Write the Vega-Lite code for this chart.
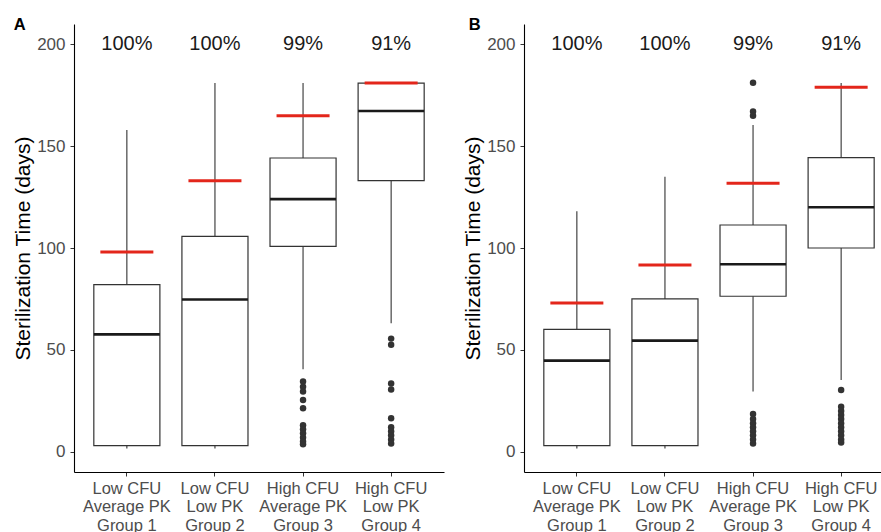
{
  "$schema": "https://vega.github.io/schema/vega-lite/v6.json",
  "padding": {"left": 12, "top": 16, "right": 0, "bottom": 0},
  "background": "white",
  "spacing": 18,
  "datasets": {
    "boxes": [
      {"panel": "A", "group": "Low CFU|Average PK|Group 1", "lower": 1.5, "q1": 3, "median": 57.6, "q3": 82, "upper": 158, "red": 98, "pct": "100%", "ypct": 200},
      {"panel": "A", "group": "Low CFU|Low PK|Group 2", "lower": 1.5, "q1": 3, "median": 74.7, "q3": 105.7, "upper": 181, "red": 133, "pct": "100%", "ypct": 200},
      {"panel": "A", "group": "High CFU|Average PK|Group 3", "lower": 40.4, "q1": 100.8, "median": 124, "q3": 144.2, "upper": 181, "red": 165, "pct": "99%", "ypct": 200},
      {"panel": "A", "group": "High CFU|Low PK|Group 4", "lower": 63, "q1": 133.1, "median": 167.3, "q3": 181, "upper": 181, "red": 181, "pct": "91%", "ypct": 200},
      {"panel": "B", "group": "Low CFU|Average PK|Group 1", "lower": 1.5, "q1": 3, "median": 44.7, "q3": 60, "upper": 118, "red": 73, "pct": "100%", "ypct": 200},
      {"panel": "B", "group": "Low CFU|Low PK|Group 2", "lower": 1.5, "q1": 3, "median": 54.5, "q3": 75, "upper": 135, "red": 91.7, "pct": "100%", "ypct": 200},
      {"panel": "B", "group": "High CFU|Average PK|Group 3", "lower": 29.5, "q1": 76.3, "median": 92, "q3": 111.3, "upper": 160.4, "red": 131.8, "pct": "99%", "ypct": 200},
      {"panel": "B", "group": "High CFU|Low PK|Group 4", "lower": 35.2, "q1": 100, "median": 120, "q3": 144.4, "upper": 181, "red": 179, "pct": "91%", "ypct": 200}
    ],
    "outliers": [
      {"panel": "A", "group": "High CFU|Average PK|Group 3", "value": 34.4},
      {"panel": "A", "group": "High CFU|Average PK|Group 3", "value": 31.9},
      {"panel": "A", "group": "High CFU|Average PK|Group 3", "value": 29.5},
      {"panel": "A", "group": "High CFU|Average PK|Group 3", "value": 25.4},
      {"panel": "A", "group": "High CFU|Average PK|Group 3", "value": 21.3},
      {"panel": "A", "group": "High CFU|Average PK|Group 3", "value": 13},
      {"panel": "A", "group": "High CFU|Average PK|Group 3", "value": 11},
      {"panel": "A", "group": "High CFU|Average PK|Group 3", "value": 9},
      {"panel": "A", "group": "High CFU|Average PK|Group 3", "value": 7},
      {"panel": "A", "group": "High CFU|Average PK|Group 3", "value": 5},
      {"panel": "A", "group": "High CFU|Average PK|Group 3", "value": 3.6},
      {"panel": "A", "group": "High CFU|Low PK|Group 4", "value": 55.5},
      {"panel": "A", "group": "High CFU|Low PK|Group 4", "value": 52.5},
      {"panel": "A", "group": "High CFU|Low PK|Group 4", "value": 33.5},
      {"panel": "A", "group": "High CFU|Low PK|Group 4", "value": 30.5},
      {"panel": "A", "group": "High CFU|Low PK|Group 4", "value": 16.4},
      {"panel": "A", "group": "High CFU|Low PK|Group 4", "value": 12},
      {"panel": "A", "group": "High CFU|Low PK|Group 4", "value": 10},
      {"panel": "A", "group": "High CFU|Low PK|Group 4", "value": 8},
      {"panel": "A", "group": "High CFU|Low PK|Group 4", "value": 6},
      {"panel": "A", "group": "High CFU|Low PK|Group 4", "value": 4},
      {"panel": "B", "group": "High CFU|Average PK|Group 3", "value": 181.2},
      {"panel": "B", "group": "High CFU|Average PK|Group 3", "value": 167},
      {"panel": "B", "group": "High CFU|Average PK|Group 3", "value": 165},
      {"panel": "B", "group": "High CFU|Average PK|Group 3", "value": 18.5},
      {"panel": "B", "group": "High CFU|Average PK|Group 3", "value": 16},
      {"panel": "B", "group": "High CFU|Average PK|Group 3", "value": 14},
      {"panel": "B", "group": "High CFU|Average PK|Group 3", "value": 12},
      {"panel": "B", "group": "High CFU|Average PK|Group 3", "value": 10},
      {"panel": "B", "group": "High CFU|Average PK|Group 3", "value": 8},
      {"panel": "B", "group": "High CFU|Average PK|Group 3", "value": 6},
      {"panel": "B", "group": "High CFU|Average PK|Group 3", "value": 4},
      {"panel": "B", "group": "High CFU|Low PK|Group 4", "value": 30.3},
      {"panel": "B", "group": "High CFU|Low PK|Group 4", "value": 22},
      {"panel": "B", "group": "High CFU|Low PK|Group 4", "value": 20},
      {"panel": "B", "group": "High CFU|Low PK|Group 4", "value": 18},
      {"panel": "B", "group": "High CFU|Low PK|Group 4", "value": 16},
      {"panel": "B", "group": "High CFU|Low PK|Group 4", "value": 14},
      {"panel": "B", "group": "High CFU|Low PK|Group 4", "value": 12},
      {"panel": "B", "group": "High CFU|Low PK|Group 4", "value": 10},
      {"panel": "B", "group": "High CFU|Low PK|Group 4", "value": 8},
      {"panel": "B", "group": "High CFU|Low PK|Group 4", "value": 6},
      {"panel": "B", "group": "High CFU|Low PK|Group 4", "value": 4.5}
    ]
  },
  "hconcat": [
    {
      "width": 370,
      "height": 448,
      "title": {"text": "A", "fontSize": 16.5, "fontWeight": "bold", "anchor": "start", "frame": "bounds", "offset": -9, "dx": 1},
      "encoding": {
        "x": {"field": "group", "type": "nominal", "sort": ["Low CFU|Average PK|Group 1", "Low CFU|Low PK|Group 2", "High CFU|Average PK|Group 3", "High CFU|Low PK|Group 4"], "scale": {"type": "band", "paddingInner": 0, "paddingOuter": 0.1}, "axis": {"title": null, "labelExpr": "split(datum.label, '|')"}}
      },
      "layer": [
        {"data": {"name": "boxes"}, "transform": [{"filter": "datum.panel == 'A'"}], "mark": {"type": "rule", "color": "#333333", "strokeWidth": 1.1}, "encoding": {"y": {"field": "lower", "type": "quantitative", "scale": {"domain": [-10, 210], "nice": false, "zero": false}, "axis": {"values": [0, 50, 100, 150, 200], "title": "Sterilization Time (days)"}}, "y2": {"field": "upper"}}},
        {"data": {"name": "boxes"}, "transform": [{"filter": "datum.panel == 'A'"}], "mark": {"type": "bar", "fill": "white", "stroke": "#333333", "strokeWidth": 1.2, "width": {"band": 0.75}}, "encoding": {"y": {"field": "q1", "type": "quantitative"}, "y2": {"field": "q3"}}},
        {"data": {"name": "boxes"}, "transform": [{"filter": "datum.panel == 'A'"}], "mark": {"type": "tick", "color": "#1a1a1a", "size": 66, "thickness": 2.6, "opacity": 1}, "encoding": {"y": {"field": "median", "type": "quantitative"}}},
        {"data": {"name": "boxes"}, "transform": [{"filter": "datum.panel == 'A'"}], "mark": {"type": "tick", "color": "#E3261B", "size": 53, "thickness": 3, "opacity": 1}, "encoding": {"y": {"field": "red", "type": "quantitative"}}},
        {"data": {"name": "outliers"}, "transform": [{"filter": "datum.panel == 'A'"}], "mark": {"type": "circle", "color": "#333333", "size": 42, "opacity": 1}, "encoding": {"y": {"field": "value", "type": "quantitative"}}},
        {"data": {"name": "boxes"}, "transform": [{"filter": "datum.panel == 'A'"}], "mark": {"type": "text", "fontSize": 20, "color": "#1a1a1a", "baseline": "middle"}, "encoding": {"y": {"field": "ypct", "type": "quantitative"}, "text": {"field": "pct"}}}
      ]
    },
    {
      "width": 370,
      "height": 448,
      "title": {"text": "B", "fontSize": 16.5, "fontWeight": "bold", "anchor": "start", "frame": "bounds", "offset": -9, "dx": 6},
      "encoding": {
        "x": {"field": "group", "type": "nominal", "sort": ["Low CFU|Average PK|Group 1", "Low CFU|Low PK|Group 2", "High CFU|Average PK|Group 3", "High CFU|Low PK|Group 4"], "scale": {"type": "band", "paddingInner": 0, "paddingOuter": 0.1}, "axis": {"title": null, "labelExpr": "split(datum.label, '|')"}}
      },
      "layer": [
        {"data": {"name": "boxes"}, "transform": [{"filter": "datum.panel == 'B'"}], "mark": {"type": "rule", "color": "#333333", "strokeWidth": 1.1}, "encoding": {"y": {"field": "lower", "type": "quantitative", "scale": {"domain": [-10, 210], "nice": false, "zero": false}, "axis": {"values": [0, 50, 100, 150, 200], "title": "Sterilization Time (days)"}}, "y2": {"field": "upper"}}},
        {"data": {"name": "boxes"}, "transform": [{"filter": "datum.panel == 'B'"}], "mark": {"type": "bar", "fill": "white", "stroke": "#333333", "strokeWidth": 1.2, "width": {"band": 0.75}}, "encoding": {"y": {"field": "q1", "type": "quantitative"}, "y2": {"field": "q3"}}},
        {"data": {"name": "boxes"}, "transform": [{"filter": "datum.panel == 'B'"}], "mark": {"type": "tick", "color": "#1a1a1a", "size": 66, "thickness": 2.6, "opacity": 1}, "encoding": {"y": {"field": "median", "type": "quantitative"}}},
        {"data": {"name": "boxes"}, "transform": [{"filter": "datum.panel == 'B'"}], "mark": {"type": "tick", "color": "#E3261B", "size": 53, "thickness": 3, "opacity": 1}, "encoding": {"y": {"field": "red", "type": "quantitative"}}},
        {"data": {"name": "outliers"}, "transform": [{"filter": "datum.panel == 'B'"}], "mark": {"type": "circle", "color": "#333333", "size": 42, "opacity": 1}, "encoding": {"y": {"field": "value", "type": "quantitative"}}},
        {"data": {"name": "boxes"}, "transform": [{"filter": "datum.panel == 'B'"}], "mark": {"type": "text", "fontSize": 20, "color": "#1a1a1a", "baseline": "middle"}, "encoding": {"y": {"field": "ypct", "type": "quantitative"}, "text": {"field": "pct"}}}
      ]
    }
  ],
  "config": {
    "font": "Liberation Sans",
    "view": {"stroke": null},
    "axis": {"grid": false, "domainColor": "#000000", "domainWidth": 1.1, "tickColor": "#333333", "tickSize": 4, "labelColor": "#4d4d4d", "labelFontSize": 17, "titleFontSize": 21, "titleFontWeight": "normal", "titleColor": "#000000"},
    "axisY": {"labelPadding": 5, "titlePadding": 3},
    "axisX": {"labelAngle": 0, "labelPadding": 4, "labelFontSize": 16.5, "labelLineHeight": 18.5}
  }
}
